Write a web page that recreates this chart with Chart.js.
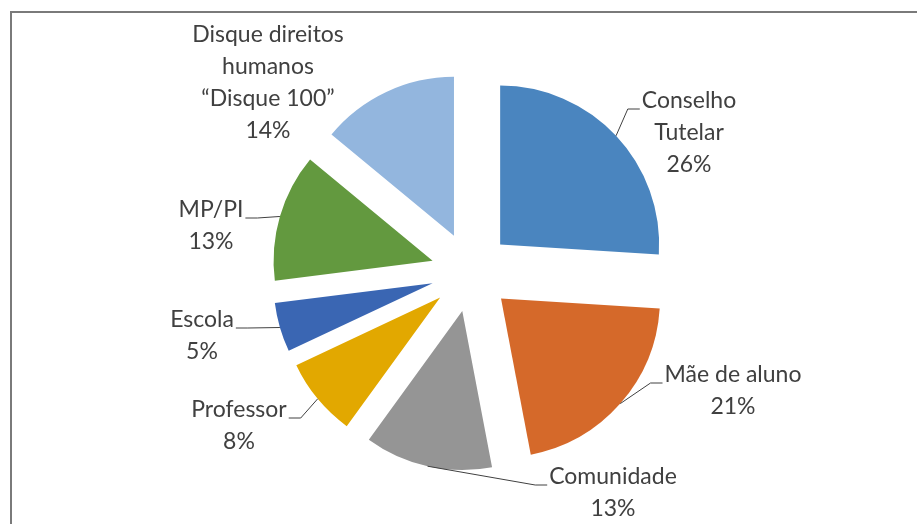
<!DOCTYPE html>
<html>
<head>
<meta charset="utf-8">
<script src="https://cdn.jsdelivr.net/npm/chart.js@4.4.0/dist/chart.umd.min.js"></script>
<style>
  html, body { margin: 0; padding: 0; background: #fff; }
  canvas { display: block; }
</style>
</head>
<body>
<canvas id="pieChart" width="917" height="524"></canvas>
<script>
// Data
const categories = [
    ['Conselho', 'Tutelar'],
    ['Mãe de aluno'],
    ['Comunidade'],
    ['Professor'],
    ['Escola'],
    ['MP/PI'],
    ['Disque direitos', 'humanos', '“Disque 100”']
];
const percentages = [26, 21, 13, 8, 5, 13, 14];
const sliceColors = ['#4a85bf', '#d5692a', '#959595', '#e2a800', '#3a66b3', '#63993f', '#93b6de'];

// Label layout (offset of first text line from pie centre), roughly as Excel placed them
const labelPlacement = [
    { dx: 218, dy: -171, leader: true },
    { dx: 262, dy: 103, leader: true },
    { dx: 142, dy: 205, leader: true },
    { dx: -232, dy: 138, leader: true },
    { dx: -269, dy: 48, leader: true },
    { dx: -260, dy: -62, leader: true },
    { dx: -203, dy: -237, leader: false }
];

const explode = 40;          // px each slice is pulled out
const lineHeight = 32;
const textColor = '#404040';
const labelFont = '23px Lato';

// draw every arc pulled out along its middle angle (Chart.js offset also grows small slices)
const explodePlugin = {
    id: 'explode',
    beforeDatasetDraw(chart, args) {
        const ctx = chart.ctx;
        args.meta.data.forEach(arc => {
            const mid = (arc.startAngle + arc.endAngle) / 2;
            ctx.save();
            ctx.translate(Math.cos(mid) * explode, Math.sin(mid) * explode);
            arc.draw(ctx);
            ctx.restore();
        });
        return false;
    }
};

const labelPlugin = {
    id: 'sliceLabels',
    afterDatasetsDraw(chart) {
        const ctx = chart.ctx;
        const meta = chart.getDatasetMeta(0);
        ctx.save();
        ctx.font = labelFont;
        ctx.fillStyle = textColor;
        ctx.strokeStyle = '#404040';
        ctx.lineWidth = 1;
        ctx.textAlign = 'center';
        ctx.textBaseline = 'middle';
        meta.data.forEach((arc, i) => {
            const mid = (arc.startAngle + arc.endAngle) / 2;
            const r = arc.outerRadius + explode;
            const ax = arc.x + Math.cos(mid) * r;
            const ay = arc.y + Math.sin(mid) * r;
            const p = labelPlacement[i];
            const tx = arc.x + p.dx;
            const ty = arc.y + p.dy;
            const lines = categories[i].concat([percentages[i] + '%']);
            lines.forEach((t, k) => ctx.fillText(t, tx, ty + k * lineHeight));

            if (p.leader) {
                const w = ctx.measureText(lines[0]).width;
                const side = ax < tx ? -1 : 1;
                const edgeX = tx + side * (w / 2 + 2);
                const ly = ty + 8;
                const elbowX = edgeX + side * 12;
                ctx.beginPath();
                ctx.moveTo(ax, ay);
                ctx.lineTo(elbowX, ly);
                ctx.lineTo(edgeX, ly);
                ctx.stroke();
            }
        });
        ctx.restore();
    }
};

// grey frame of the pasted Excel chart
const framePlugin = {
    id: 'frame',
    afterDraw(chart) {
        const ctx = chart.ctx;
        ctx.save();
        ctx.strokeStyle = '#7a7a7a';
        ctx.lineWidth = 2;
        ctx.beginPath();
        ctx.moveTo(917, 12);
        ctx.lineTo(11, 12);
        ctx.lineTo(11, 524);
        ctx.stroke();
        ctx.restore();
    }
};

new Chart(document.getElementById('pieChart'), {
    type: 'pie',
    data: {
        labels: categories,
        datasets: [{
            data: percentages,
            backgroundColor: sliceColors,
            borderWidth: 0
        }]
    },
    options: {
        responsive: false,
        animation: false,
        radius: 159,
        layout: {
            padding: { left: 45, right: 20, top: 30, bottom: 10 }
        },
        plugins: {
            legend: { display: false },
            tooltip: { enabled: false }
        }
    },
    plugins: [explodePlugin, labelPlugin, framePlugin]
});
</script>
</body>
</html>
